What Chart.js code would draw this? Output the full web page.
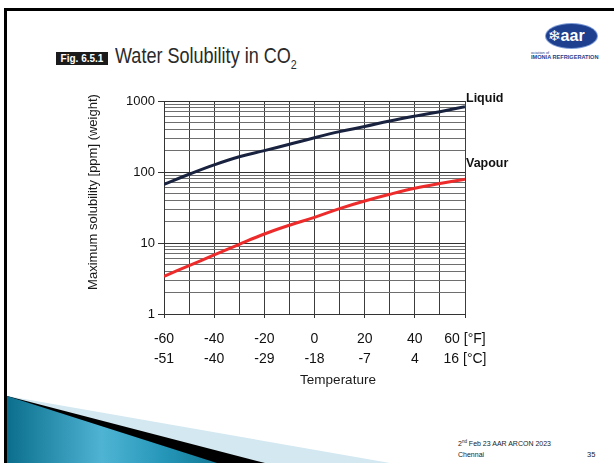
<!DOCTYPE html>
<html>
<head>
<meta charset="utf-8">
<script src="https://cdn.jsdelivr.net/npm/chart.js@4.4.1/dist/chart.umd.min.js"></script>
<style>
  html, body { margin: 0; padding: 0; background: #fff; }
  body { width: 614px; height: 463px; position: relative; overflow: hidden; font-family: "Liberation Sans", Arial, sans-serif; }
  .abs { position: absolute; }
  #deco { left: 0; top: 0; }
  #frameTop { left: 4px; top: 8px; width: 610px; height: 3px; background: #000; }
  #frameLeft { left: 4px; top: 8px; width: 3px; height: 455px; background: #000; }
  #figBox { left: 56px; top: 52px; width: 52px; height: 13px; background: #1b1b1b; color: #fff; font-weight: bold; font-size: 10px; line-height: 13px; text-align: center; }
  #title { left: 115px; top: 43px; font-size: 22px; color: #2a2a2a; white-space: nowrap; transform: scaleX(0.82); transform-origin: 0 0; }
  #title sub { font-size: 13px; vertical-align: -6px; line-height: 0; }
  #logo { left: 546px; top: 24px; width: 51px; height: 24px; border-radius: 50%; background: #1d3f8e; box-shadow: 0 0 0 1px #7d9bd6; color: #fff; font-weight: bold; font-size: 16px; line-height: 23px; white-space: nowrap; }
  #logo .flake { font-family: "DejaVu Sans", sans-serif; font-size: 15px; margin-left: 2px; }
  #logoSmall { left: 531px; top: 50px; color: #1d3f8e; font-size: 4px; line-height: 5px; white-space: nowrap; }
  #logoSmall b { font-size: 5.6px; }
  #foot { left: 458px; top: 438px; font-size: 7px; line-height: 11px; color: #222; white-space: nowrap; }
  #foot sup { font-size: 4.5px; vertical-align: 3px; line-height: 0; }
  #page { left: 587px; top: 449px; font-size: 7.5px; line-height: 11px; color: #222; }
  canvas { position: absolute; left: 0; top: 0; }
</style>
</head>
<body>
<svg id="deco" class="abs" width="614" height="463">
  <defs>
    <linearGradient id="teal" x1="0" y1="0" x2="1" y2="0">
      <stop offset="0" stop-color="#0a6e8c"/>
      <stop offset="0.45" stop-color="#4fb4d4"/>
      <stop offset="0.75" stop-color="#2596b8"/>
      <stop offset="1" stop-color="#127896"/>
    </linearGradient>
  </defs>
  <polygon points="7,396 390,463 7,463" fill="#d3e8f0"/>
  <polygon points="7,396 265,463 7,463" fill="#000"/>
  <polygon points="7,396 217,463 7,463" fill="url(#teal)"/>
</svg>
<div id="frameTop" class="abs"></div>
<div id="frameLeft" class="abs"></div>
<div id="figBox" class="abs">Fig. 6.5.1</div>
<div id="title" class="abs">Water Solubility in CO<sub>2</sub></div>
<div id="logo" class="abs"><span class="flake">❄</span>aar</div>
<div id="logoSmall" class="abs">ociation of<br><b>IMONIA REFRIGERATION</b></div>
<div id="foot" class="abs">2<sup>nd</sup> Feb 23 AAR ARCON 2023<br>Chennai</div>
<div id="page" class="abs">35</div>
<canvas id="chart" width="614" height="463"></canvas>
<script>
// Data (temperature in °F, solubility in ppm by weight)
const temperaturesF = [-60, -50, -40, -30, -20, -10, 0, 10, 20, 30, 40, 50, 60];
const liquidPpm = [67, 93, 126, 164, 200, 246, 304, 370, 438, 523, 612, 707, 832];
const vapourPpm = [3.4, 4.8, 6.8, 9.6, 13.4, 17.8, 23, 30.5, 39, 48.5, 59, 69, 79];

// Axis labels
const labelledF = [-60, -40, -20, 0, 20, 40, 60];
const fahrenheitLabels = ['-60', '-40', '-20', '0', '20', '40', '60 [°F]'];
const celsiusLabels = ['-51', '-40', '-29', '-18', '-7', '4', '16 [°C]'];
const yGridValues = [1, 2, 3, 4, 5, 6, 7, 8, 9, 10, 20, 30, 40, 50, 60, 70, 80, 90,
  100, 200, 300, 400, 500, 600, 700, 800, 900, 1000];
const yLabelValues = [1, 10, 100, 1000];

const toPoints = (ys) => temperaturesF.map((t, i) => ({ x: t, y: ys[i] }));
const isDecade = (v) => yLabelValues.includes(v);

Chart.defaults.font.family = '"Liberation Sans", Arial, sans-serif';
Chart.defaults.color = '#111';

// axis titles and end-of-line labels
const annotations = {
  id: 'annotations',
  afterDraw(chart) {
    const ctx = chart.ctx;
    ctx.save();
    ctx.fillStyle = '#1a1a1a';
    ctx.font = '13px "Liberation Sans", Arial, sans-serif';
    ctx.textAlign = 'center';
    ctx.textBaseline = 'middle';
    ctx.save();
    ctx.translate(93, 192);
    ctx.rotate(-Math.PI / 2);
    ctx.fillText('Maximum solubility [ppm] (weight)', 0, 0);
    ctx.restore();
    ctx.font = '13.5px "Liberation Sans", Arial, sans-serif';
    ctx.fillText('Temperature', 338, 380);

    ctx.font = 'bold 12.5px "Liberation Sans", Arial, sans-serif';
    ctx.textAlign = 'left';
    chart.data.datasets.forEach((ds, i) => {
      const pts = chart.getDatasetMeta(i).data;
      const last = pts[pts.length - 1];
      ctx.fillStyle = '#111';
      ctx.fillText(ds.label, last.x + 1, last.y - ds.endLabelOffset);
    });
    ctx.restore();
  }
};

new Chart(document.getElementById('chart'), {
  type: 'line',
  data: {
    datasets: [
      {
        label: 'Liquid',
        data: toPoints(liquidPpm),
        borderColor: '#19233f',
        borderWidth: 3,
        tension: 0.4,
        pointRadius: 0,
        endLabelOffset: 8
      },
      {
        label: 'Vapour',
        data: toPoints(vapourPpm),
        borderColor: '#ee2b2b',
        borderWidth: 3,
        tension: 0.4,
        pointRadius: 0,
        endLabelOffset: 16
      }
    ]
  },
  options: {
    responsive: false,
    animation: false,
    layout: { padding: { top: 101, right: 149, left: 0, bottom: 0 } },
    plugins: {
      legend: { display: false },
      tooltip: { enabled: false }
    },
    scales: {
      x: {
        type: 'linear',
        min: -60,
        max: 60,
        afterFit: (scale) => { scale.height = 149; },
        border: { color: '#333', width: 1 },
        grid: {
          color: '#3c3c3c',
          lineWidth: 1,
          tickLength: 4,
          tickColor: (c) => (c.tick && c.tick.value % 20 === 0 ? '#333' : 'rgba(0,0,0,0)')
        },
        ticks: {
          stepSize: 10,
          autoSkip: false,
          maxRotation: 0,
          padding: 11,
          font: { size: 14, lineHeight: 1.43 },
          color: '#111',
          callback: (v) => {
            const i = labelledF.indexOf(v);
            return i < 0 ? '' : [fahrenheitLabels[i], celsiusLabels[i]];
          }
        }
      },
      y: {
        type: 'logarithmic',
        min: 1,
        max: 1000,
        afterFit: (scale) => { scale.width = 164; },
        afterBuildTicks: (scale) => { scale.ticks = yGridValues.map((v) => ({ value: v })); },
        border: { color: '#333', width: 1 },
        grid: {
          color: (c) => (c.tick && isDecade(c.tick.value) ? '#333' : '#6e6e6e'),
          lineWidth: 1,
          tickLength: 6,
          tickColor: (c) => (c.tick && isDecade(c.tick.value) ? '#333' : 'rgba(0,0,0,0)')
        },
        ticks: {
          autoSkip: false,
          padding: 3,
          font: { size: 13 },
          color: '#111',
          callback: (v) => (isDecade(v) ? String(v) : '')
        }
      }
    }
  },
  plugins: [annotations]
});
</script>
</body>
</html>
